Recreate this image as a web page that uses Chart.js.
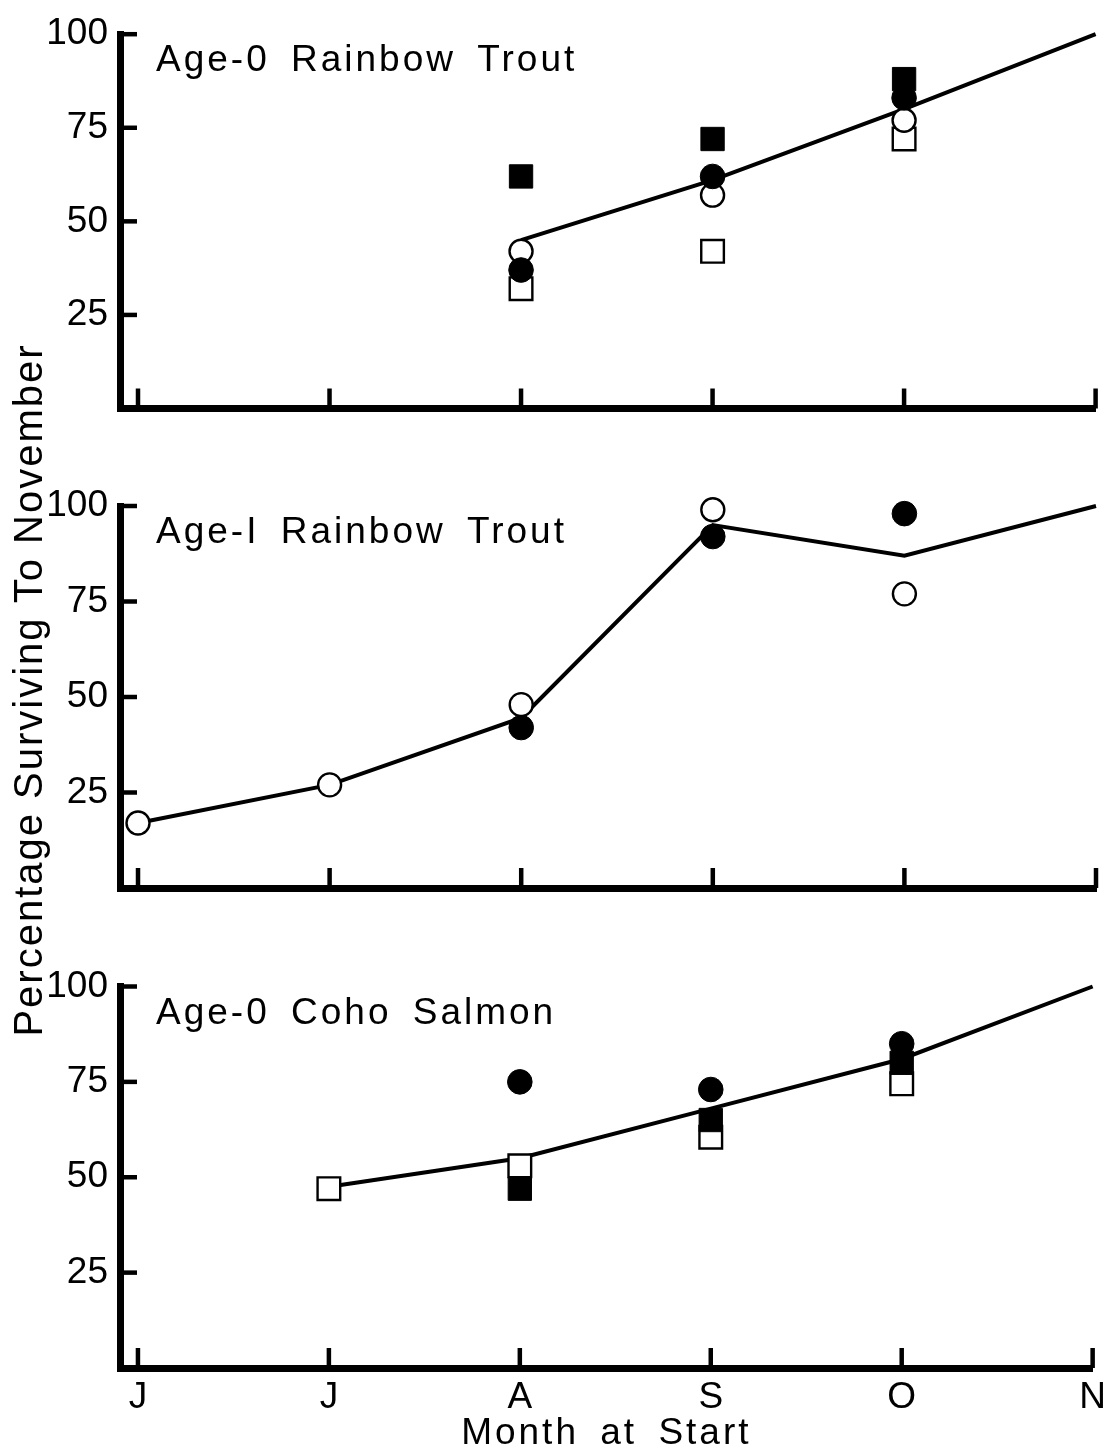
<!DOCTYPE html>
<html><head><meta charset="utf-8">
<script src="https://cdn.jsdelivr.net/npm/chart.js@4/dist/chart.umd.min.js"></script>
<style>
html,body{margin:0;padding:0;background:#fff;width:1114px;height:1452px;overflow:hidden;}
canvas{position:absolute;left:0;top:0;}
</style></head><body>
<canvas id="c1" width="1114" height="1452"></canvas>
<canvas id="c2" width="1114" height="1452"></canvas>
<canvas id="c3" width="1114" height="1452"></canvas>
<script>
// ---- categories / ticks / text ----
const monthLabels = ['J','J','A','S','O','N'];
const monthIdx = [0,1,2,3,4,5];
const yTicks = [25,50,75,100];
const panelTitles = ['Age-0 Rainbow Trout','Age-I Rainbow Trout','Age-0 Coho Salmon'];
const yAxisTitle = 'Percentage Surviving To November';
const xAxisTitle = 'Month at Start';

// ---- Panel 1: Age-0 Rainbow Trout ----
const p1CurveX = [2,3,4,5];
const p1Curve = [45,61,80,100];
const p1PtX = [2,3,4];
const p1FilledSquare = [62,72,88];
const p1OpenSquare = [32,42,72];
const p1FilledCircle = [37,62,83];
const p1OpenCircle = [42,57,77];

// ---- Panel 2: Age-I Rainbow Trout ----
const p2CurveX = [0,1,2,3,4,5];
const p2Curve = [17,27,44.5,95,87,100];
const p2OpenX = [0,1,2,3,4];
const p2OpenCircle = [17,27,48,99,77];
const p2FilledX = [2,3,4];
const p2FilledCircle = [42,92,98];

// ---- Panel 3: Age-0 Coho Salmon ----
const p3CurveX = [1,2,3,4,5];
const p3Curve = [47.5,55,68,81,100];
const p3OpenSqX = [1,2,3,4];
const p3OpenSquare = [47,53,60.5,74.5];
const p3FilledX = [2,3,4];
const p3FilledSquare = [47,65,80];
const p3FilledCircle = [75,73,85];

const FONT = '"Liberation Sans", Arial, Helvetica, sans-serif';
Chart.defaults.font.family = FONT;
Chart.defaults.color = '#000';

const pts = (xs, ys) => xs.map((x, i) => ({x, y: ys[i]}));

const sty = {
  filledSquare: {pointStyle:'rect', pointRadius:16.5, pointBackgroundColor:'#000', pointBorderColor:'#000', pointBorderWidth:1, backgroundColor:'#000', borderColor:'#000'},
  openSquare:   {pointStyle:'rect', pointRadius:16, pointBackgroundColor:'#fff', pointBorderColor:'#000', pointBorderWidth:2.4, backgroundColor:'#fff', borderColor:'#000'},
  filledCircle: {pointStyle:'circle', pointRadius:12.3, pointBackgroundColor:'#000', pointBorderColor:'#000', pointBorderWidth:1, backgroundColor:'#000', borderColor:'#000'},
  openCircle:   {pointStyle:'circle', pointRadius:11.5, pointBackgroundColor:'#fff', pointBorderColor:'#000', pointBorderWidth:2.4, backgroundColor:'#fff', borderColor:'#000'},
};
function ds(label, data, style, order) {
  return Object.assign({label, data, showLine:false, clip:false, order, pointHoverRadius: style.pointRadius}, style);
}
function curve(label, data, order) {
  return {label, data, showLine:true, clip:false, order, borderColor:'#000', borderWidth:4, pointRadius:0, pointHoverRadius:0, tension:0, fill:false};
}

const decor = {
  id: 'decor',
  beforeDraw(chart) {
    // spacing used by the axis title (drawn in the grid layer)
    chart.ctx.letterSpacing = '3px';
    chart.ctx.wordSpacing = '8px';
  },
  beforeDatasetsDraw(chart) {
    // tick labels are drawn in a later layer without extra spacing
    chart.ctx.letterSpacing = '0px';
    chart.ctx.wordSpacing = '0px';
  },
  afterDraw(chart, args, o) {
    const {ctx, chartArea: a, scales: {x, y}} = chart;
    ctx.save();
    ctx.strokeStyle = '#000';
    ctx.lineWidth = 4.5;
    ctx.lineCap = 'butt';
    yTicks.forEach(v => {
      const py = y.getPixelForValue(v);
      ctx.beginPath(); ctx.moveTo(a.left, py); ctx.lineTo(a.left + 17, py); ctx.stroke();
    });
    monthIdx.forEach(v => {
      const px = x.getPixelForValue(v);
      ctx.beginPath(); ctx.moveTo(px, a.bottom); ctx.lineTo(px, a.bottom - 20); ctx.stroke();
    });
    ctx.fillStyle = '#000';
    ctx.font = '37px ' + FONT;
    ctx.letterSpacing = '3px';
    ctx.wordSpacing = '8px';
    ctx.textAlign = 'left';
    ctx.textBaseline = 'alphabetic';
    ctx.fillText(o.title, a.left + 36, a.top + 37);
    if (o.yTitle) {
      ctx.font = '40px ' + FONT;
      ctx.letterSpacing = '2px';
      ctx.wordSpacing = '0px';
      ctx.translate(42, 690);
      ctx.rotate(-Math.PI / 2);
      ctx.textAlign = 'center';
      ctx.textBaseline = 'alphabetic';
      ctx.fillText(o.yTitle, 0, 0);
    }
    ctx.restore();
  }
};

function makeChart(id, top, bottom, datasets, title, showX, yTitle) {
  return new Chart(document.getElementById(id), {
    type: 'scatter',
    data: {datasets},
    options: {
      responsive: false,
      animation: false,
      events: [],
      layout: {padding: {top: top, right: 18, left: 0, bottom: 0}},
      plugins: {
        legend: {display: false},
        tooltip: {enabled: false},
        decor: {title, yTitle}
      },
      scales: {
        x: {
          type: 'linear', min: -0.094, max: 5,
          afterBuildTicks: s => { s.ticks = monthIdx.map(v => ({value: v})); },
          afterFit: s => { s.height = 1452 - bottom; },
          grid: {display: false, drawTicks: false},
          border: {display: true, width: 7, color: '#000'},
          ticks: {display: showX, z: 1, autoSkip: false, maxRotation: 0, minRotation: 0, padding: 8, color: '#000',
                  font: {size: 37}, callback: v => monthLabels[Math.round(v)]},
          title: {display: showX, text: xAxisTitle, color: '#000', font: {size: 37, lineHeight: 1}, padding: 0}
        },
        y: {
          type: 'linear', min: 0, max: 100,
          afterBuildTicks: s => { s.ticks = yTicks.map(v => ({value: v})); },
          afterFit: s => { s.width = 120; },
          grid: {display: false, drawTicks: false},
          border: {display: true, width: 7, color: '#000'},
          ticks: {z: 1, padding: 12, color: '#000', font: {size: 37}, autoSkip: false}
        }
      }
    },
    plugins: [decor]
  });
}

makeChart('c1', 26.5, 408.5, [
  ds('Filled circle', pts(p1PtX, p1FilledCircle), sty.filledCircle, 1),
  ds('Filled square', pts(p1PtX, p1FilledSquare), sty.filledSquare, 2),
  ds('Open circle', pts(p1PtX, p1OpenCircle), sty.openCircle, 3),
  ds('Open square', pts(p1PtX, p1OpenSquare), sty.openSquare, 4),
  curve('Fitted', pts(p1CurveX, p1Curve), 5)
], panelTitles[0], false, null);

makeChart('c2', 506, 888, [
  ds('Filled circle', pts(p2FilledX, p2FilledCircle), sty.filledCircle, 1),
  ds('Open circle', pts(p2OpenX, p2OpenCircle), sty.openCircle, 2),
  curve('Fitted', pts(p2CurveX, p2Curve), 3)
], panelTitles[1], false, yAxisTitle);

makeChart('c3', 986.5, 1368, [
  ds('Filled circle', pts(p3FilledX, p3FilledCircle), sty.filledCircle, 1),
  ds('Filled square', pts(p3FilledX, p3FilledSquare), sty.filledSquare, 2),
  ds('Open square', pts(p3OpenSqX, p3OpenSquare), sty.openSquare, 3),
  curve('Fitted', pts(p3CurveX, p3Curve), 4)
], panelTitles[2], true, null);
</script>
</body></html>
